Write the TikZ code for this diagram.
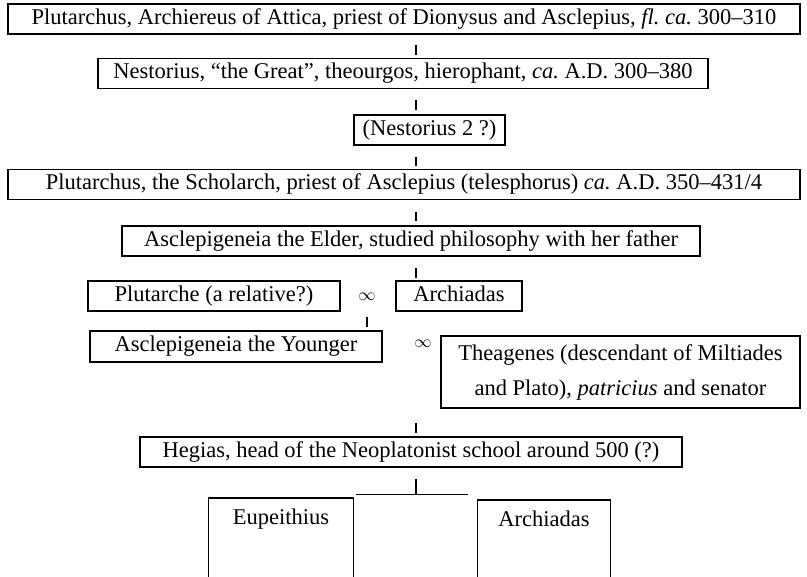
\documentclass[tikz,border=0pt]{standalone}
\usepackage{fontspec}
\setmainfont{Liberation Serif}
\usetikzlibrary{positioning,calc}
\frenchspacing

\begin{document}
\begin{tikzpicture}[
  x=1pt, y=-1pt,
  famblock/.style={draw, line width=1.1pt, inner sep=0pt, minimum height=30pt,
                   font=\fontsize{22.5}{35}\selectfont, align=center},
  person/.style={famblock, text height=16pt, text depth=5pt},
  kid/.style={person, draw=none, minimum height=40pt},
  tick/.style={line width=1.1pt},
  wed/.style={font=\fontsize{18}{22}\selectfont},
]

%% ---- Rahmen ----
\clip (0,0) rectangle (807,577);
\coordinate (spine) at (416,0);

%% ---- Linie der Priester ----
\node[person, minimum width=792pt] at (404,19)    (plut)   {Plutarchus, Archiereus of Attica, priest of Dionysus and Asclepius, \textit{fl. ca.} 300--310};
\node[person, minimum width=610pt] at (403,73.5)  (nest)   {Nestorius, ``the Great'', theourgos, hierophant, \textit{ca.} A.D. 300--380};
\node[person, minimum width=151pt] at (429.5,130)  (nesttwo) {(Nestorius 2 ?)};
\node[person, minimum width=792pt] at (404,184.5)  (schol)  {Plutarchus, the Scholarch, priest of Asclepius (telesphorus) \textit{ca.} A.D. 350--431/4};
\node[person, minimum width=578pt] at (411,241)    (eldr)   {Asclepigeneia the Elder, studied philosophy with her father};

%% ---- Ehen ----
\node[person, minimum width=252pt] at (214,296)    (plutche) {Plutarche (a relative?)};
\node[person, minimum width=126pt] at (459,296)    (archone) {Archiadas};
\node[wed] at (367,297) (wedone) {$\infty$};

\node[person, minimum width=292pt, minimum height=31pt] at (236,346.5) (yngr) {Asclepigeneia the Younger};
\node[famblock, minimum width=359pt, minimum height=72pt] at (620.5,372) (theag)
  {Theagenes (descendant of Miltiades\\and Plato), \textit{patricius} and senator};
\node[wed] at (423,344) (wedtwo) {$\infty$};

\node[person, minimum width=542pt] at (411,452)    (hegias) {Hegias, head of the Neoplatonist school around 500 (?)};

%% ---- Kinder (unten abgeschnitten) ----
\node[kid, minimum width=144pt, anchor=north] at (281,498) (eupe)    {Eupeithius};
\node[kid, minimum width=132pt, anchor=north] at (544,500) (archtwo) {Archiadas};
\draw[tick] (eupe.north west) rectangle ([yshift=-80pt]eupe.south east);
\draw[tick] (archtwo.north west) rectangle ([yshift=-80pt]archtwo.south east);

%% ---- Abstammungsstriche ----
\draw[tick] ([yshift=-10pt]plut.south -| spine)   -- ([yshift=3pt]nest.north -| spine);
\draw[tick] ([yshift=-11pt]nest.south -| spine)   -- ([yshift=4pt]nesttwo.north -| spine);
\draw[tick] ([yshift=-11pt]nesttwo.south -| spine) -- ([yshift=3pt]schol.north -| spine);
\draw[tick] ([yshift=-12pt]schol.south -| spine)  -- ([yshift=4pt]eldr.north -| spine);
\draw[tick] ([yshift=-11pt]eldr.south -| spine)   -- ([yshift=2pt]archone.north -| spine);
\draw[tick] ([yshift=-5pt]plutche.south -| wedone) -- ([yshift=3pt]yngr.north -| wedone);
\draw[tick] ([yshift=-14pt]theag.south -| spine)  -- ([yshift=3pt]hegias.north -| spine);
\coordinate (fork) at ([yshift=-27pt]hegias.south -| spine);
\draw[tick] ([yshift=-11pt]hegias.south -| spine) -- (fork);
\draw[tick] ([xshift=-60pt]fork) -- ([xshift=52pt]fork);

\end{tikzpicture}
\end{document}
